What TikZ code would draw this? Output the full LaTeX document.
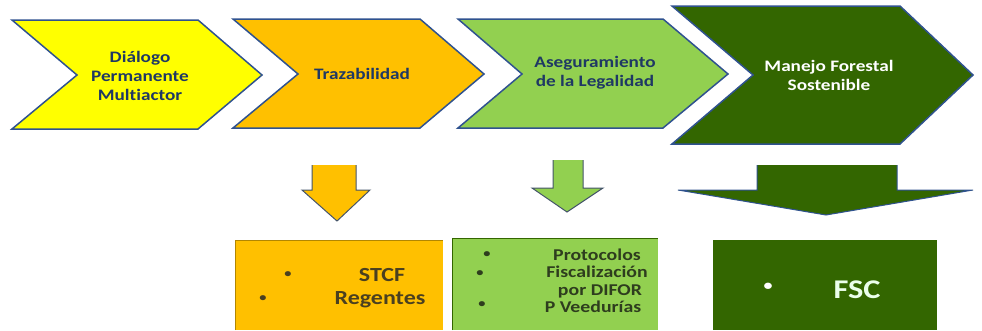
\documentclass[tikz,border=0pt]{standalone}
\usepackage{fontspec}
\setmainfont{Carlito}[FakeStretch=1.2, Ligatures=NoCommon]
\definecolor{yel}{HTML}{FFFF00}
\definecolor{orng}{HTML}{FFC000}
\definecolor{lgreen}{HTML}{92D050}
\definecolor{dgreen}{HTML}{336600}
\definecolor{navy}{HTML}{1F3864}
\definecolor{edge}{HTML}{2F528F}
\definecolor{arredge}{HTML}{44546A}
\definecolor{boxtext}{HTML}{4A4020}
\definecolor{gboxtext}{HTML}{2E3D1E}
\begin{document}
\begin{tikzpicture}[x=1pt, y=-1pt, thick,
  chev/.style={draw=edge, line width=1.5pt, line join=miter},
  chev text/.style={text=navy, align=center, font=\bfseries\fontsize{16}{19}\selectfont},
  arrow edge/.style={draw=arredge, line width=1pt},
  box text/.style={text=boxtext, anchor=base, font=\bfseries\fontsize{20}{22}\selectfont},
  gbox text/.style={text=gboxtext, anchor=base, font=\bfseries\fontsize{16.5}{18}\selectfont},
  dot/.style={anchor=base, font=\bfseries\fontsize{12}{12}\selectfont}]
\useasboundingbox (0,0) rectangle (982,330);

% chevrons
\draw[chev, fill=yel] (12,20) -- (198,20) -- (262,75) -- (198,129) -- (12,129) -- (77,75) -- cycle;
\draw[chev, fill=orng] (233,19) -- (420,19) -- (484,74) -- (420,128) -- (233,128) -- (298,74) -- cycle;
\draw[chev, fill=lgreen] (458,19) -- (663,19) -- (728,74) -- (663,128) -- (458,128) -- (522,74) -- cycle;
\draw[chev, fill=dgreen] (672,6) -- (900,6) -- (973,75) -- (900,144) -- (672,144) -- (753,75) -- cycle;

\node[chev text] (1) at (140,76) {Diálogo\\Permanente\\Multiactor};
\node[chev text] (2) at (362,74) {Trazabilidad};
\node[chev text] (3) at (595,73) {Aseguramiento\\de la Legalidad};
\node[chev text, text=white] (4) at (829,75) {Manejo Forestal\\Sostenible};

% down arrows
\fill[orng] (312,165) -- (356,165) -- (356,190) -- (370,190) -- (337,221) -- (302,190) -- (312,190) -- cycle;
\draw[arrow edge] (312,165) -- (312,190) -- (302,190) -- (337,221) -- (370,190) -- (356,190) -- (356,165);
\fill[lgreen] (553,160) -- (583,160) -- (583,188) -- (603,188) -- (567,212) -- (532,188) -- (553,188) -- cycle;
\draw[arrow edge] (553,160) -- (553,188) -- (532,188) -- (567,212) -- (603,188) -- (583,188) -- (583,160);
\fill[dgreen] (757,165) -- (897,165) -- (897,190) -- (973,190) -- (826,215) -- (678,190) -- (757,190) -- cycle;
\draw[arrow edge, draw=edge] (757,165) -- (757,190) -- (678,190) -- (826,215) -- (973,190) -- (897,190) -- (897,165);

% boxes
\fill[orng] (235,240) rectangle (443,330);
\draw[orng!70!black, line width=1pt] (235,330) -- (235,240) -- (443,240);
\fill[lgreen] (452,238) rectangle (658,330);
\draw[dgreen, line width=1pt] (452,330) -- (452,238) -- (658,238);
\fill[dgreen] (713,240) rectangle (937,330);

\node[dot, text=boxtext] (b1) at (288,277) {•};
\node[box text] (s1) at (382,281) {STCF};
\node[dot, text=boxtext] (b2) at (263,301) {•};
\node[box text] (s2) at (380,304) {Regentes};

\node[dot, text=gboxtext] (b3) at (487,257) {•};
\node[gbox text] (g1) at (597,260) {Protocolos};
\node[dot, text=gboxtext] (b4) at (480,276) {•};
\node[gbox text] (g2) at (597,277) {Fiscalización};
\node[gbox text] (g3) at (600,295) {por DIFOR};
\node[dot, text=gboxtext] (b5) at (482,307) {•};
\node[gbox text] (g4) at (593,312) {P Veedurías};

\node[dot, text=white, font=\bfseries\fontsize{15}{15}\selectfont] (b6) at (768,290) {•};
\node[text=green!8, anchor=base, font=\bfseries\fontsize{27}{30}\selectfont] (f1) at (857,298) {FSC};

\end{tikzpicture}
\end{document}
